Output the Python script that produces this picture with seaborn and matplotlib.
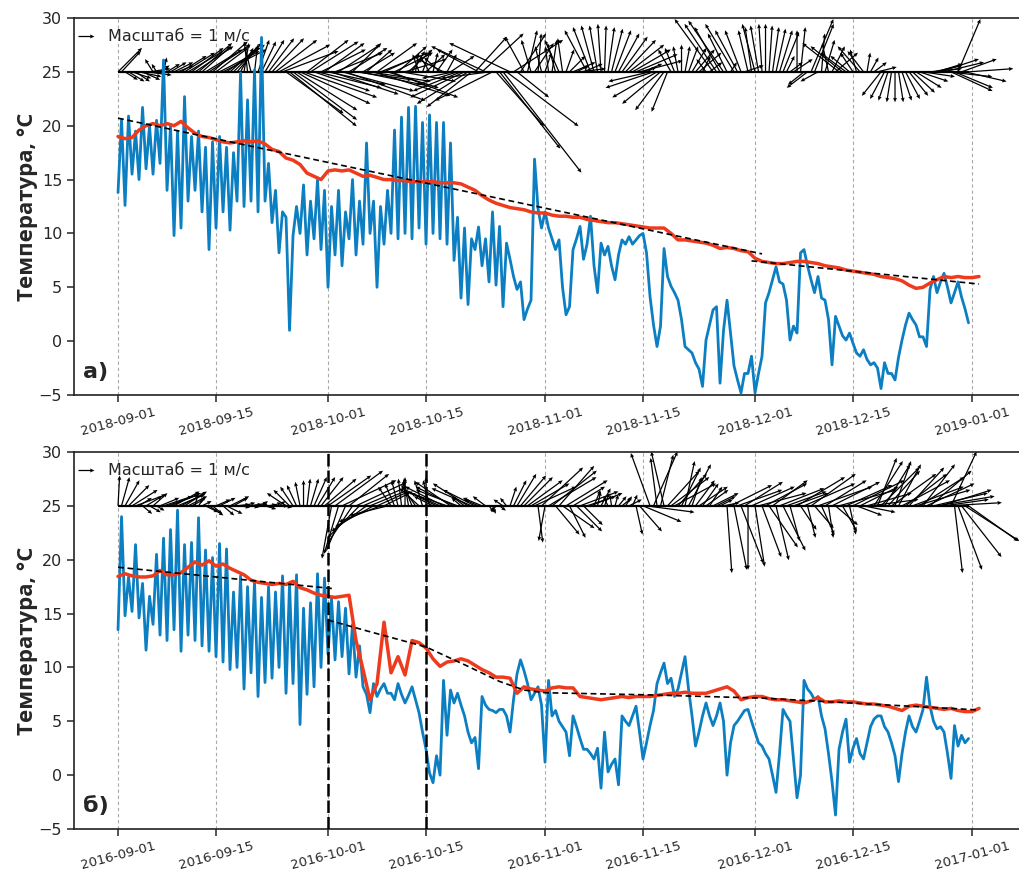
import numpy as np
import pandas as pd
import matplotlib
matplotlib.use("Agg")
import matplotlib.pyplot as plt
import matplotlib.dates as mdates
import seaborn as sns

# ---------------- data: panel a (2018) ----------------
start_a = "2018-09-01"
ticks_a = ["2018-09-01", "2018-09-15", "2018-10-01", "2018-10-15", "2018-11-01",
           "2018-11-15", "2018-12-01", "2018-12-15", "2019-01-01"]
# air temperature, every 12 h from 2018-09-01 00:00
air_a = [
    13.8, 20.6, 12.6, 20.9, 15.5, 19.5, 15.0, 21.7, 16.0, 20.0,
    15.5, 20.5, 16.5, 26.1, 14.0, 20.0, 9.8, 19.5, 10.5, 22.7,
    13.0, 19.0, 14.0, 19.5, 12.0, 18.0, 8.5, 18.5, 10.5, 19.0,
    12.0, 18.0, 10.3, 17.5, 13.0, 24.9, 12.5, 22.4, 13.0, 25.2,
    12.0, 28.2, 13.0, 16.5, 11.0, 14.0, 8.2, 12.0, 11.5, 1.0,
    9.8, 12.5, 10.0, 14.5, 8.0, 13.0, 9.5, 15.0, 8.5, 14.0,
    5.0, 12.5, 8.0, 14.0, 7.0, 12.0, 9.5, 15.0, 8.0, 13.0,
    9.0, 18.4, 10.0, 13.0, 5.0, 12.5, 9.0, 14.0, 10.0, 19.6,
    9.5, 20.8, 10.0, 21.7, 9.5, 21.8, 10.5, 20.3, 9.0, 21.0,
    10.0, 20.3, 9.5, 20.3, 9.0, 18.4, 7.5, 11.5, 4.0, 10.5,
    3.4, 9.5, 8.5, 10.6, 7.0, 9.5, 5.5, 12.0, 5.2, 10.65,
    3.2, 9.1, 7.6, 6.0, 4.8, 5.5, 2.0, 3.0, 3.8, 16.9,
    12.3, 10.5, 12.0, 10.5, 9.5, 8.5, 9.4, 5.0, 2.45, 3.2,
    8.5, 9.5, 10.65, 7.6, 9.0, 11.6, 7.0, 4.5, 9.1, 8.0,
    8.8, 7.0, 5.7, 8.0, 9.4, 9.0, 9.7, 9.0, 9.4, 9.8,
    10.0, 8.2, 4.15, 1.5, -0.5, 1.4, 8.6, 6.0, 5.1, 4.5,
    3.8, 2.0, -0.5, -0.8, -1.1, -2.0, -2.6, -4.2, 0.1, 1.5,
    2.9, 3.2, -3.9, 1.0, 3.8, 0.75, -2.3, -3.6, -4.8, -3.0,
    -3.0, -1.4, -4.8, -3.0, -1.4, 3.55, 4.5, 5.7, 6.9, 5.5,
    5.3, 3.8, 0.1, 1.4, 0.75, 8.2, 8.5, 7.0, 5.7, 4.5,
    6.0, 4.0, 3.8, 2.0, -2.2, 2.3, 1.4, 0.5, 0.1, 0.75,
    -0.2, -1.1, -1.4, -0.8, -1.7, -2.2, -2.0, -2.5, -4.4, -2.0,
    -3.0, -3.0, -3.6, -1.5, 0.1, 1.5, 2.6, 2.0, 1.5, 0.4,
    0.4, -0.5, 4.8, 6.0, 4.5, 5.5, 6.3, 5.0, 3.55, 4.5,
    5.5, 4.1, 3.0, 1.7,
]
# water temperature, daily from 2018-09-01
water_a = [
    19.0, 18.8, 18.9, 19.6, 20.0, 20.2, 20.0, 20.2, 20.0, 20.4,
    19.8, 19.3, 19.0, 18.9, 18.7, 18.5, 18.4, 18.5, 18.6, 18.5,
    18.6, 18.3, 17.8, 17.6, 17.0, 16.8, 16.4, 15.6, 15.3, 15.0,
    15.8, 15.9, 15.8, 15.9, 15.6, 15.3, 15.4, 15.2, 15.0, 15.0,
    14.9, 14.9, 14.8, 14.8, 14.8, 14.8, 14.7, 14.7, 14.7, 14.6,
    14.3, 14.0, 13.5, 13.1, 12.8, 12.6, 12.4, 12.3, 12.2, 12.0,
    11.9, 11.9, 11.7, 11.6, 11.6, 11.5, 11.5, 11.3, 11.2, 11.1,
    11.0, 11.0, 10.9, 10.8, 10.7, 10.6, 10.5, 10.5, 10.5, 10.0,
    9.4, 9.4, 9.3, 9.2, 9.1, 8.9, 8.6, 8.7, 8.6, 8.4,
    8.3, 7.7, 7.4, 7.3, 7.2, 7.2, 7.3, 7.4, 7.4, 7.3,
    7.2, 7.0, 6.9, 6.8, 6.6, 6.5, 6.4, 6.3, 6.2, 6.0,
    5.9, 5.8, 5.6, 5.2, 4.9, 5.0, 5.4, 5.7, 6.0, 5.9,
    6.0, 5.9, 5.9, 6.0,
]
# wind components (m/s), every 12 h from 2018-09-01 00:00
wind_a_u = [
    1.5, 1.2, 0.8, 1.0, 1.2, 0.9, 1.4, 1.1, 1.6, 1.3, -0.5, -0.3, 0.6, 0.2, 0.8, 1.0, 1.2, 1.0, 1.6, 1.9,
    2.2, 2.0, 2.4, 2.1, 1.8, 2.3, 2.6, 2.2, 2.0, 2.5, 2.7, 2.4, 2.0, 1.6, 1.2, 0.8, 0.3, -0.2, -0.4, 0.2,
    0.7, 0.9, 1.2, 1.6, 2.0, 2.6, 3.2, 3.5, 3.6, 4.2, 4.0, 3.8, 4.4, 4.6, 2.6, 3.0, 3.5, 4.0, 2.8, 2.5,
    3.6, 4.2, 3.0, 2.6, 4.5, 5.0, 2.4, 1.8, 3.5, 4.4, 2.0, 1.6, 3.8, 4.8, 2.5, 3.0, 2.2, 3.2, 4.2, 2.4,
    1.8, 3.4, 2.6, 1.5, 0.8, 0.2, -0.4, 0.5, 1.2, -0.6, 0.3, 1.0, -1.0, -1.6, 0.6, 1.5, -2.0, -2.6, -3.0, -3.4,
    -3.2, -2.8, 2.0, -2.6, 2.6, -3.4, -3.0, -3.6, 3.0, 3.8, 4.9, 4.5, -3.8, 3.1, 2.0, 1.6, -1.2, 0.6, -0.6, 1.2,
    0.2, -0.4, 0.4, -0.2, 0.3, -0.5, -0.9, -0.3, 0.5, 1.0, 1.4, 0.8, 1.6, 1.2, -1.4, -1.1, -0.8, -0.5, -0.2, 0.1,
    0.4, 0.7, 1.0, 1.3, 1.6, 1.9, 2.2, 2.4, 2.6, 2.7, 1.2, 0.6, -2.6, -3.0, -2.8, -2.4, -1.8, -1.0, -0.8, -0.6,
    -0.3, 0.0, 0.3, 0.6, 0.9, 1.2, 1.4, 0.5, -0.6, 0.8, -2.4, -2.0, -1.6, -2.2, -1.2, 0.4, -1.8, -1.4, -1.0, 1.2,
    -0.6, -0.4, -0.8, -0.5, -0.2, 0.0, 0.2, 0.4, 0.6, 0.8, 1.0, 0.5, 0.8, 1.2, 0.0, 0.3, -1.0, -1.3, 1.4, 1.2,
    -1.1, 0.2, 0.6, -0.4, 0.8, 1.4, -2.3, -2.0, -1.6, -1.2, -0.8, -0.4, -1.4, -1.0, 0.2, 0.5, 0.8, 1.2, -1.2, -0.9,
    -0.6, -0.3, 0.0, 0.3, 0.6, 0.9, 1.2, 1.4, 1.6, 1.8, 2.0, 2.2, 2.0, 1.8, 1.6, 2.4, 2.5, 2.8, 2.6, 2.4,
    1.4, 2.2, 2.6, 2.8,
]
wind_a_v = [
    1.5, 1.3, -0.5, -0.6, -0.4, -0.6, -0.3, -0.5, -0.2, 0.2, 0.8, 0.5, 0.4, 0.9, 0.5, 0.6, 0.6, 0.4, 1.0, 1.2,
    1.3, 1.5, 1.6, 1.8, 1.6, 1.4, 1.7, 1.9, 1.5, 1.3, 1.4, 1.7, 1.8, 1.6, 1.4, 1.5, 1.8, 1.9, 1.6, 1.7,
    2.0, 1.9, 2.0, 2.1, 2.1, 2.0, 1.7, 1.3, -2.6, -3.4, -3.0, -2.4, -2.0, -1.6, 2.0, 1.9, -1.2, -1.0, 1.4, 1.8,
    -0.8, -1.4, 1.2, 1.7, -1.2, -1.8, 1.5, 1.8, -0.5, -0.9, 1.2, 1.4, -0.6, -1.5, 1.8, 1.2, 1.0, -1.0, -1.6, 1.2,
    1.6, -0.6, 0.8, 1.4, 1.3, 1.2, 1.1, 1.3, 1.1, 1.0, 1.2, 1.4, 0.9, 0.8, 1.1, 1.0, -0.4, -0.8, -1.2, -1.6,
    -2.0, -2.2, 2.2, 1.4, 2.4, 1.6, -0.4, -1.8, -3.4, -4.8, -6.3, -3.4, 1.8, 2.0, -1.6, 2.4, 2.2, 2.6, 2.0, 1.8,
    2.4, 1.6, 1.2, 1.6, 2.0, 1.8, 2.0, 2.1, 1.4, 1.0, 0.6, 0.4, 0.2, 0.5, 2.6, 2.8, 2.9, 2.9, 3.0, 2.9,
    2.8, 2.7, 2.6, 2.4, 2.2, 2.0, 1.7, 1.4, 1.1, 0.7, 0.5, 0.3, -0.6, -1.0, -1.6, -2.0, -2.4, -2.5, 1.4, 1.5,
    1.6, 1.7, 1.6, 1.6, 1.5, 1.4, 1.2, 1.0, 0.8, 0.6, 3.3, 3.0, 2.8, 3.2, 2.4, 0.6, 3.0, 2.6, 2.6, 0.4,
    2.6, 2.8, 3.0, 2.9, 3.0, 3.0, 2.9, 2.8, 2.7, 2.6, 2.5, 1.0, 0.6, 0.8, 2.6, 2.8, -0.8, -1.0, 3.3, 3.0,
    -0.6, 2.4, 2.0, 1.8, 1.6, 1.2, 1.8, 1.6, 1.2, 1.0, 1.2, 1.4, 1.6, 1.3, 1.2, 0.9, 0.6, 0.3, -1.5, -1.7,
    -1.8, -1.9, -1.9, -1.9, -1.8, -1.7, -1.5, -1.3, -1.0, -0.6, -0.3, 0.0, 0.2, 0.4, 0.5, 0.8, 0.6, -0.3, -1.2, -1.0,
    3.3, 0.8, -0.6, 0.2,
]
trend_a1_dates = ["2018-09-01 00:00", "2018-12-02 00:00"]
trend_a1_vals = [20.7, 8.1]
trend_a2_dates = ["2018-11-30 12:00", "2019-01-02 00:00"]
trend_a2_vals = [7.45, 5.3]

# ---------------- data: panel b (2016) ----------------
start_b = "2016-09-01"
ticks_b = ["2016-09-01", "2016-09-15", "2016-10-01", "2016-10-15", "2016-11-01",
           "2016-11-15", "2016-12-01", "2016-12-15", "2017-01-01"]
events_b = ["2016-10-01", "2016-10-15"]
air_b = [
    13.5, 24.0, 14.8, 18.4, 15.2, 21.4, 14.6, 17.8, 11.6, 16.6,
    14.0, 20.5, 13.0, 22.0, 12.5, 22.8, 13.5, 24.6, 11.5, 21.4,
    13.0, 21.6, 12.5, 23.9, 12.0, 20.9, 11.5, 20.2, 11.0, 21.5,
    10.5, 21.0, 9.8, 17.0, 10.0, 18.5, 8.0, 17.5, 9.5, 18.0,
    7.3, 16.5, 8.6, 17.5, 9.0, 17.0, 10.0, 18.5, 7.6, 17.8,
    8.5, 18.6, 4.7, 15.5, 7.5, 16.0, 8.2, 18.7, 10.0, 18.3,
    11.2, 16.4, 10.7, 16.1, 11.0, 15.5, 9.4, 14.0, 9.1, 12.0,
    8.2, 7.5, 5.8, 8.5, 7.3, 8.0, 8.5, 7.6, 7.6, 7.0,
    8.5, 7.5, 6.7, 7.4, 8.2, 7.0, 5.8, 4.0, 2.4, 0.2,
    -0.7, 1.8, 0.0, 8.8, 3.7, 7.9, 6.7, 7.6, 6.5, 5.5,
    4.0, 3.0, 3.5, 0.6, 7.3, 6.5, 6.1, 6.0, 5.8, 6.1,
    6.1, 5.5, 4.0, 7.0, 9.4, 10.7, 9.7, 8.5, 7.0, 7.6,
    8.2, 6.5, 1.2, 8.8, 5.5, 6.0, 5.0, 4.5, 4.0, 1.8,
    5.5, 4.5, 3.4, 2.4, 2.4, 2.0, 1.5, 2.5, -1.2, 4.0,
    0.3, 1.0, 1.5, -0.9, 5.5, 5.0, 4.6, 5.5, 6.4, 4.0,
    1.5, 3.0, 4.6, 6.0, 8.5, 9.5, 10.4, 8.5, 9.0, 7.3,
    8.0, 9.5, 11.0, 8.0, 5.5, 2.7, 4.0, 5.5, 6.7, 5.5,
    4.6, 5.5, 6.7, 5.0, 0.0, 3.0, 4.6, 5.0, 5.5, 6.0,
    6.1, 5.0, 4.0, 3.0, 2.7, 2.0, 1.5, 0.0, -1.6, 2.0,
    6.1, 5.5, 5.0, 1.5, -2.1, 0.0, 8.8, 8.0, 7.6, 7.0,
    7.3, 5.5, 4.3, 2.0, -0.6, -3.7, 2.4, 4.0, 5.2, 1.2,
    2.5, 3.4, 2.0, 1.5, 3.0, 4.5, 5.2, 5.5, 5.5, 4.5,
    4.0, 3.0, 1.8, -0.6, 2.0, 4.0, 5.5, 4.5, 4.0, 5.0,
    6.1, 9.1, 6.4, 5.0, 4.3, 4.5, 4.0, 2.0, -0.3, 4.6,
    2.7, 3.7, 3.0, 3.4,
]
water_b = [
    18.45, 18.7, 18.5, 18.4, 18.4, 18.5, 19.0, 18.6, 18.6, 18.8,
    19.3, 19.8, 19.5, 19.9, 19.4, 19.6, 19.2, 18.9, 18.6, 18.1,
    17.9, 17.8, 17.7, 17.8, 17.7, 18.0, 17.4, 17.2, 16.9, 16.7,
    16.6, 16.5, 16.6, 16.7, 12.5, 9.8, 7.0, 8.5, 14.2, 9.5,
    11.0, 9.3, 12.5, 12.3, 11.8, 10.8, 10.1, 10.5, 10.6, 10.8,
    10.6, 10.2, 9.8, 9.5, 9.1, 9.1, 9.0, 7.6, 8.2, 8.0,
    7.9, 7.8, 8.1, 8.2, 8.1, 8.1, 7.3, 7.2, 7.1, 7.0,
    7.1, 7.2, 7.3, 7.2, 7.3, 7.3, 7.3, 7.4, 7.5, 7.6,
    7.6, 7.7, 7.6, 7.6, 7.6, 7.8, 8.0, 8.2, 7.8, 7.0,
    7.2, 7.3, 7.3, 7.1, 7.0, 7.0, 6.9, 6.8, 6.7, 6.9,
    7.2, 6.8, 6.8, 6.9, 6.8, 6.8, 6.7, 6.6, 6.6, 6.5,
    6.4, 6.2, 6.0, 6.4, 6.5, 6.4, 6.3, 6.2, 6.1, 6.2,
    6.0, 5.9, 5.9, 6.2,
]
wind_b_u = [
    0.1, 0.5, 0.9, 1.3, 1.6, 1.9, 0.8, 0.6, 1.0, 0.7, 0.9, 0.5, 1.2, 1.8, 2.0, 1.9, 1.6, 1.7, 1.5, 1.4,
    1.2, 0.8, 0.2, 0.4, 0.6, 0.8, 0.9, 0.6, 0.9, 1.0, 0.7, 1.0, 1.2, 0.9, 0.8, 0.6, 0.7, 0.9, 0.5, 0.8,
    0.6, 0.4, 0.7, 0.5, 0.6, 0.8, 0.4, 0.6, -1.2, -1.0, -0.8, -0.6, -0.3, 0.0, 0.2, 0.5, 0.8, 1.1, 1.4, 2.0,
    2.7, -0.6, 3.0, -0.9, 3.4, -1.2, 2.5, -1.6, 3.2, -2.0, 2.8, -2.2, 2.4, -2.4, 2.0, -2.6, 1.6, -2.4, -0.8, -0.6,
    -0.4, -0.2, 0.0, -0.3, -0.6, -0.9, -1.2, -0.5, 0.0, -0.4, -1.2, -1.6, -2.0, -2.4, -2.6, -2.2, -2.4, -2.6, -0.6, -0.8,
    -2.2, -2.5, -2.0, -0.9, -1.2, -0.8, 0.3, 0.2, -0.3, 0.4, -0.6, -0.4, 0.4, 0.8, 1.2, 1.6, 1.8, 2.2, 2.4, 2.6,
    0.3, 2.6, -0.4, 3.0, 2.8, 1.5, 2.2, 2.0, 2.6, 1.0, 2.0, 1.6, 2.4, 1.2, 1.8, 2.0, 0.4, 0.2, 0.6, 0.3,
    -0.3, -0.1, 0.2, 0.5, 0.6, 0.4, 0.8, 0.3, 0.4, 1.4, 2.4, 3.0, -1.2, 1.5, -0.4, 0.8, -0.8, 2.0, 2.4, 2.6,
    1.8, 1.2, 0.6, 1.4, 0.6, 1.2, 1.8, 1.0, 1.4, 0.8, 1.6, 1.2, 0.8, 1.0, 0.3, 2.6, 0.8, 2.8, 1.4, 2.4,
    0.0, 2.7, 0.6, 3.0, 1.2, 2.6, 1.8, 2.2, 0.8, 2.8, 1.4, 2.5, 0.6, 2.2, 3.0, 1.0, 3.2, 0.5, 2.8, 1.2,
    3.4, 0.8, 2.6, 0.3, 3.0, 1.4, 3.6, 0.9, 2.9, 0.4, 3.2, 1.6, 2.4, 2.0, 2.8, 3.0, 1.8, 1.2, 2.4, 1.6,
    2.0, 2.8, 1.0, 1.4, 3.0, 2.6, 2.2, 3.2, 3.4, 2.8, 2.0, 3.0, 2.6, 3.4, 3.6, 3.2, 2.8, 3.4, 1.6, 0.5,
    1.5, 2.5, 3.4, 3.1,
]
wind_b_v = [
    1.9, 1.8, 1.6, 1.3, 1.0, 0.7, 0.5, -0.5, 0.6, -0.4, 0.8, -0.3, 0.5, 0.6, 0.7, 0.8, 0.9, 0.7, 0.8, 0.9,
    0.6, 0.4, 0.8, 0.6, 0.3, -0.4, -0.6, -0.5, 0.4, 0.5, -0.6, -0.5, 0.6, 0.5, 0.1, -0.1, 0.2, 0.1, -0.1, 0.2,
    0.1, 0.3, -0.2, 0.1, 0.2, 0.0, 0.3, -0.1, 0.8, 1.0, 1.2, 1.3, 1.5, 1.6, 1.7, 1.7, 1.8, 1.8, 1.8, 1.7,
    1.9, -3.3, 2.2, -3.0, 1.6, -2.8, 2.0, -2.4, 1.5, -2.0, 1.2, -1.6, 1.0, -1.3, 0.9, -1.0, 0.8, -0.6, 1.2, 1.4,
    1.6, 1.7, 1.8, 1.7, 1.5, 1.3, 1.1, 1.6, 1.8, 1.6, 0.6, 0.8, 0.9, 1.2, 0.9, 1.5, 1.2, 1.0, 0.5, 0.6,
    1.4, 1.1, 1.0, 0.4, 0.5, 0.6, -0.4, -0.5, -0.4, -0.3, 0.4, 0.5, 1.2, 1.6, 2.0, 1.9, 1.8, 1.6, 1.4, 1.2,
    -2.3, 2.4, -2.2, 1.8, 2.2, -1.8, 2.5, -1.4, 1.6, -2.0, 1.2, -1.6, 0.9, -1.2, 0.6, 0.8, 1.0, 0.9, 1.1, 0.8,
    0.6, 0.7, 0.7, 0.6, 0.5, 0.6, 0.4, 0.7, -1.8, -1.6, -1.0, -0.4, 3.3, 3.4, 3.0, 3.2, 3.4, 2.2, 1.8, 1.4,
    2.0, 2.4, 2.8, 2.6, 1.8, 1.6, 1.2, 1.4, 1.0, 1.2, 0.8, 0.6, 0.4, 0.2, -4.2, 1.3, -4.0, 1.0, -3.6, 1.5,
    -4.0, 1.2, -3.8, 0.8, -3.2, 1.4, -2.6, 1.6, -3.4, 1.1, -2.8, 0.9, -2.2, 0.8, 1.8, -1.5, 1.4, -2.0, 2.0, -1.4,
    1.2, -1.8, 1.6, -2.0, 1.5, -1.2, 1.0, -1.6, 1.3, -1.8, 1.6, -0.6, 1.2, -0.4, 0.8, 0.4, 2.8, 3.0, 2.4, 2.6,
    2.2, 2.0, 2.8, 2.6, 1.6, 2.0, 2.4, 1.2, 1.0, 1.8, 2.6, 1.4, 2.2, 0.8, 0.6, 1.0, 0.4, 0.2, 3.4, -4.2,
    -4.0, -3.2, -2.2, -2.2,
]
trend_b1_dates = ["2016-09-01 00:00", "2016-10-02 00:00"]
trend_b1_vals = [19.3, 17.3]
trend_b2_dates = ["2016-10-01 00:00", "2016-10-06 12:00", "2016-10-15 00:00", "2016-10-21 00:00",
                  "2016-10-25 12:00", "2016-10-29 00:00", "2016-11-01 00:00", "2016-11-16 00:00",
                  "2016-12-02 00:00", "2016-12-16 00:00", "2017-01-02 00:00"]
trend_b2_vals = [14.4, 13.4, 11.9, 10.1, 8.7, 7.9, 7.65, 7.45, 7.15, 6.65, 6.05]

# ---------------- styling ----------------
sns.set_style("ticks")
plt.rcParams["font.family"] = ["DejaVu Sans"]
plt.rcParams["axes.edgecolor"] = "#222222"
plt.rcParams["axes.linewidth"] = 1.2

BLUE = "#0b7fc1"
RED = "#ee3b1e"
WIND_BASE = 25.0

W, H = 1019, 874
fig = plt.figure(figsize=(W / 100, H / 100), dpi=100)
ax_a = fig.add_axes([74 / W, 1 - 395 / H, 948 / W, 377 / H])
ax_b = fig.add_axes([74 / W, 1 - 829 / H, 948 / W, 377 / H])


def dnum(lst):
    return mdates.date2num(pd.to_datetime(lst, format="mixed").to_pydatetime())


def draw(ax, start, air, water, wu, wv, trends, ticks, tag, events=()):
    t0 = dnum([start])[0]
    t_air = t0 + 0.5 * np.arange(len(air))
    t_wat = t0 + np.arange(len(water))
    t_wind = t0 + 0.5 * np.arange(len(wu))
    ax.set_xlim(t0 - 6.29, t0 + 129.14)
    ax.set_ylim(-5, 30)

    tick_pos = dnum(ticks)
    for tp in tick_pos:
        ax.axvline(tp, color="#a8a8a8", lw=0.8, ls=(0, (3, 2.5)), zorder=0)

    # stick-plot baseline of the wind vectors
    ax.hlines(WIND_BASE, t_wind[0], t_wind[-1], color="black", lw=1.6, zorder=2)
    Q = ax.quiver(t_wind, np.full(len(wu), WIND_BASE), wu, wv, angles="uv",
                  scale_units="dots", scale=1 / 16.0, units="dots", width=1.25,
                  headwidth=3.2, headlength=3.6, headaxislength=3.2,
                  color="black", zorder=2)
    ax.quiverkey(Q, 0.021, 0.952, 1, "Масштаб = 1 м/с", labelpos="E",
                 coordinates="axes", labelsep=0.14,
                 fontproperties={"size": 11.5})

    sns.lineplot(x=t_air, y=air, ax=ax, color=BLUE, lw=2.0, zorder=3,
                 estimator=None, sort=False)
    sns.lineplot(x=t_wat, y=water, ax=ax, color=RED, lw=2.5, zorder=4,
                 estimator=None, sort=False)
    for dts, vals in trends:
        sns.lineplot(x=dnum(dts), y=vals, ax=ax, color="black", lw=1.2,
                     ls=(0, (3.5, 2.2)), zorder=5, estimator=None, sort=False)
    for ev in events:
        ax.axvline(dnum([ev])[0], color="black", lw=1.8,
                   ls=(0, (5, 1.6)), zorder=6)

    ax.set_xticks(tick_pos)
    ax.set_xticklabels(ticks, rotation=15, fontsize=9.5)
    ax.set_yticks([-5, 0, 5, 10, 15, 20, 25, 30])
    ax.tick_params(axis="y", labelsize=11.5, length=5, width=1.1, direction="out")
    ax.tick_params(axis="x", length=5, width=1.1, direction="out", pad=2.5)
    ax.set_xlabel("")
    ax.set_ylabel("Температура, °С", fontsize=16, fontweight="bold",
                  family=["Open Sans", "DejaVu Sans"])
    ax.yaxis.set_label_coords(-0.038, 0.5)
    ax.spines["right"].set_visible(False)
    ax.text(0.009, 0.035, tag, transform=ax.transAxes, fontsize=16,
            fontweight="bold", ha="left", va="bottom", zorder=7)


draw(ax_a, start_a, air_a, water_a, wind_a_u, wind_a_v,
     [(trend_a1_dates, trend_a1_vals), (trend_a2_dates, trend_a2_vals)],
     ticks_a, "а)")
draw(ax_b, start_b, air_b, water_b, wind_b_u, wind_b_v,
     [(trend_b1_dates, trend_b1_vals), (trend_b2_dates, trend_b2_vals)],
     ticks_b, "б)", events=events_b)

fig.savefig("out.png", dpi=100)
